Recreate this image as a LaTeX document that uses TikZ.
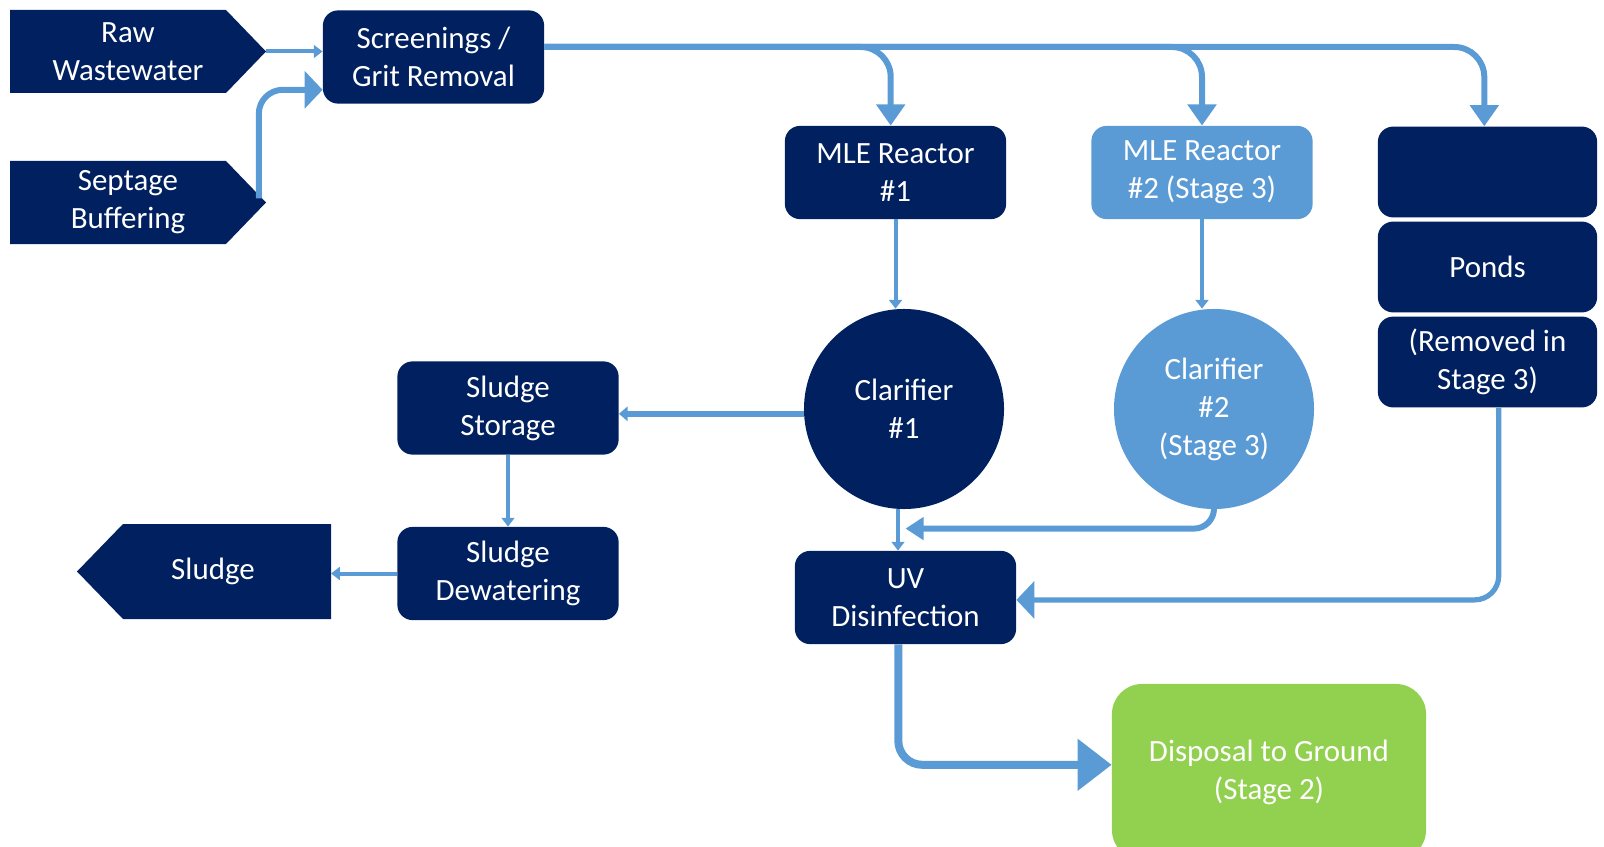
\documentclass[tikz,border=0pt]{standalone}
\usepackage{fontspec}
\setmainfont{Carlito}
\usetikzlibrary{arrows.meta}
\usetikzlibrary{calc}
\definecolor{navy}{RGB}{0,32,96}
\definecolor{flowblue}{RGB}{91,155,213}
\definecolor{grassgreen}{RGB}{146,208,80}
\tikzset{
    unit/.style={fill=navy, rounded corners=0.38cm, text=white, align=center,
        font=\fontsize{22}{27}\selectfont, minimum width=5.53cm, minimum height=2.33cm},
    lightunit/.style={unit, fill=flowblue},
    tank/.style={circle, fill=navy, text=white, align=center,
        font=\fontsize{22}{27}\selectfont, minimum size=5cm, inner sep=0pt},
    feedtext/.style={text=white, align=center, font=\fontsize{22}{27}\selectfont},
    flow/.style={draw=flowblue, line width=0.15cm},
    thinflow/.style={draw=flowblue, line width=0.1cm, -{Triangle[length=0.22cm,width=0.32cm]}}
}
\begin{document}
\begin{tikzpicture}[x=0.025cm,y=-0.025cm]
	\useasboundingbox (0,0) rectangle (1604,847);

	% arrow shaped sources and sink
	\fill[navy] (10,10) -- (226,10) -- (266,51.5) -- (226,93) -- (10,93) -- cycle;
	\fill[navy] (10,161) -- (226,161) -- (266,202.5) -- (226,244) -- (10,244) -- cycle;
	\fill[navy] (331,524) -- (123,524) -- (77,571.5) -- (123,619) -- (331,619) -- cycle;
	\coordinate (rawtip) at (266,51.5);
	\coordinate (septip) at (266,202.5);
	\coordinate (sludgeend) at (331,571.5);
	\node[feedtext] (raw) at (128,51.5) {Raw\\Wastewater};
	\node[feedtext] (sep) at (128,202.5) {Septage\\Buffering};
	\node[feedtext] (sludge) at (213,571.5) {Sludge};

	\node[unit] (scr) at (433.5,57) {Screenings /\\Grit Removal};

	\node[unit] (mle1) at (895.5,172.5) {MLE Reactor\\\#1};
	\node[lightunit] (mle2) at (1202,172.5) {MLE Reactor\\\#2 (Stage 3)};
	\node[unit, minimum width=5.48cm, minimum height=2.27cm] (pond1) at (1487.5,172) {};
	\node[unit, minimum width=5.48cm, minimum height=2.27cm] (pond2) at (1487.5,267) {Ponds};
	\node[unit, minimum width=5.48cm, minimum height=2.27cm] (pond3) at (1487.5,362) {(Removed in\\Stage 3)};

	\node[tank] (clar1) at (904,409) {Clarifier\\\#1};
	\node[tank, fill=flowblue] (clar2) at (1214,409) {Clarifier\\\#2\\(Stage 3)};

	\node[unit] (sto) at (508,408) {Sludge\\Storage};
	\node[unit] (dew) at (508,573.5) {Sludge\\Dewatering};

	\node[unit] (uv) at (905.5,597.5) {UV\\Disinfection};
	\node[unit, fill=grassgreen, rounded corners=0.75cm, minimum width=7.85cm, minimum height=4.4cm] (disp) at (1269,772) {Disposal to Ground\\(Stage 2)};

	% inflow
	\draw[flow, line width=0.1cm, -{Triangle[length=0.22cm,width=0.32cm]}] (rawtip) -- (rawtip -| scr.west);
	\draw[flow, rounded corners=0.6cm, -{Triangle[length=0.45cm,width=0.92cm]}] ([xshift=-0.18cm,yshift=0.1cm]septip) |- ([yshift=-0.82cm]scr.west);

	% split to the three trains
	\draw[flow, rounded corners=0.75cm, -{Triangle[length=0.53cm,width=0.7cm]}] ([yshift=0.25cm]scr.east) -| ([xshift=-0.12cm]mle1.north);
	\draw[flow, rounded corners=0.75cm, -{Triangle[length=0.53cm,width=0.7cm]}] ([yshift=0.25cm]scr.east) -| (mle2.north);
	\draw[flow, rounded corners=0.75cm, -{Triangle[length=0.53cm,width=0.7cm]}] ([yshift=0.25cm]scr.east) -| ([xshift=-0.08cm]pond1.north);

	\draw[thinflow] (mle1.south) -- (mle1.south |- clar1.north);
	\draw[thinflow] (mle2.south) -- (mle2.south |- clar2.north);

	% sludge line
	\draw[flow, -{Triangle[length=0.22cm,width=0.36cm]}] ([yshift=-0.12cm]clar1.west) -- ([yshift=-0.12cm]clar1.west -| sto.east);
	\draw[thinflow] (sto.south) -- (dew.north);
	\draw[thinflow] (dew.west) -- (dew.west -| sludgeend);

	% effluent
	\draw[thinflow] ([xshift=-0.15cm]clar1.south) -- ([xshift=-0.15cm]clar1.south |- uv.north);
	\draw[flow, rounded corners=0.5cm, -{Triangle[length=0.45cm,width=0.55cm]}] (clar2.south) |- ([yshift=0.55cm]uv.north);
	\draw[flow, line width=0.13cm, rounded corners=0.6cm, -{Triangle[length=0.45cm,width=0.92cm]}] ([xshift=0.28cm]pond3.south) |- ([yshift=-0.06cm]uv.east);
	\draw[flow, line width=0.2cm, rounded corners=0.6cm, -{Triangle[length=0.85cm,width=1.25cm]}] ([xshift=-0.18cm]uv.south) |- ([yshift=0.18cm]disp.west);
\end{tikzpicture}
\end{document}
